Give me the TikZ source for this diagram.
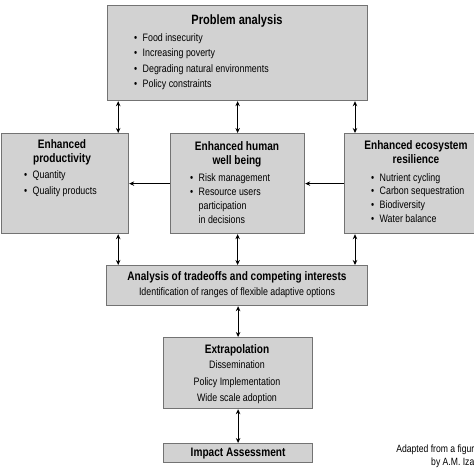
\documentclass[tikz,border=0pt]{standalone}
\usepackage{fontspec}
\setmainfont{Liberation Sans}[FakeStretch=0.82]
\usetikzlibrary{arrows.meta}
\tikzset{
  box/.style={draw=black!55, line width=1.2pt, fill=gray!35, inner sep=0pt, anchor=north west},
  ttl/.style={font=\bfseries\fontsize{12.3}{14}\selectfont, align=center, inner sep=0pt},
  lst/.style={font=\fontsize{10.8}{15.5}\selectfont, align=left, inner sep=0pt, anchor=north west},
  ctr/.style={font=\fontsize{10.8}{16.5}\selectfont, align=center, inner sep=0pt},
  arr/.style={{Stealth[length=5pt,width=4.5pt]}-{Stealth[length=5pt,width=4.5pt]}, line width=0.9pt},
  sarr/.style={-{Stealth[length=5pt,width=4.5pt]}, line width=0.9pt},
}
\newcommand{\bul}{\textbullet\enspace}
\newcommand{\nob}{\hphantom{\textbullet\enspace}}
\begin{document}
\begin{tikzpicture}[x=1pt,y=-1pt]
\useasboundingbox (0,0) rectangle (474,474);
\clip (0,0) rectangle (474,474);
\fill[white] (0,0) rectangle (474,474);

% boxes
\node[box, minimum width=260pt, minimum height=95pt] (pa) at (107,5) {};
\node[box, minimum width=127pt, minimum height=100pt] (prod) at (1,133) {};
\node[box, minimum width=134pt, minimum height=100pt] (hum) at (170,133) {};
\node[box, minimum width=140pt, minimum height=100pt] (eco) at (344,133) {};
\node[box, minimum width=261pt, minimum height=40pt] (ana) at (106,265) {};
\node[box, minimum width=149pt, minimum height=71pt] (ext) at (163,337) {};
\node[box, minimum width=149pt, minimum height=19pt] (imp) at (163,443) {};

% problem analysis
\node[ttl, font=\bfseries\fontsize{13.5}{15}\selectfont] (pat) at (237,21) {Problem analysis};
\node[lst] (pal) at (134,33) {\bul Food insecurity\\\bul Increasing poverty\\\bul Degrading natural environments\\\bul Policy constraints};

% productivity
\node[ttl] (prodt) at (62,152) {Enhanced\\productivity};
\node[lst, font=\fontsize{10.8}{16.5}\selectfont] (prodl) at (24,170) {\bul Quantity\\\bul Quality products};

% human well being
\node[ttl] (humt) at (237,154) {Enhanced human\\well being};
\node[lst, font=\fontsize{10.8}{14}\selectfont] (huml) at (190,173) {\bul Risk management\\\bul Resource users\\\nob participation\\\nob in decisions};

% ecosystem
\node[ttl] (ecot) at (416,152) {Enhanced ecosystem\\resilience};
\node[lst, font=\fontsize{10.8}{13.8}\selectfont] (ecol) at (371,173) {\bul Nutrient cycling\\\bul Carbon sequestration\\\bul Biodiversity\\\bul Water balance};

% analysis
\node[ttl] (anat) at (237,277) {Analysis of tradeoffs and competing interests};
\node[ctr] (anas) at (237,293) {Identification of ranges of flexible adaptive options};

% extrapolation
\node[ttl] (extt) at (237,350) {Extrapolation};
\node[ctr] (extl) at (237,382.5) {Dissemination\\Policy Implementation\\Wide scale adoption};

% impact
\node[ttl] (impt) at (imp.center) {Impact Assessment};

% credit (cut at the picture's edge, as printed)
\node[font=\fontsize{10.5}{13}\selectfont, align=right, inner sep=0pt, anchor=east] (cred) at (474.5,456) {Adapted from a figur\\by A.M. Iza};

% arrows
\draw[arr] ([xshift=-11pt]prod.north east |- pa.south) -- ([xshift=-11pt]prod.north east);
\draw[arr] (pa.south) -- (hum.north);
\draw[arr] ([xshift=11pt]eco.north west |- pa.south) -- ([xshift=11pt]eco.north west);
\draw[arr] ([xshift=-11pt]prod.south east) -- ([xshift=-11pt]prod.south east |- ana.north);
\draw[arr] (hum.south) -- (hum.south |- ana.north);
\draw[arr] ([xshift=11pt]eco.south west) -- ([xshift=11pt]eco.south west |- ana.north);
\draw[arr] (ext.north |- ana.south) -- (ext.north);
\draw[arr] (ext.south) -- (imp.north);
\draw[sarr] (hum.west) -- (prod.east);
\draw[sarr] (eco.west) -- (hum.east);
\end{tikzpicture}
\end{document}
